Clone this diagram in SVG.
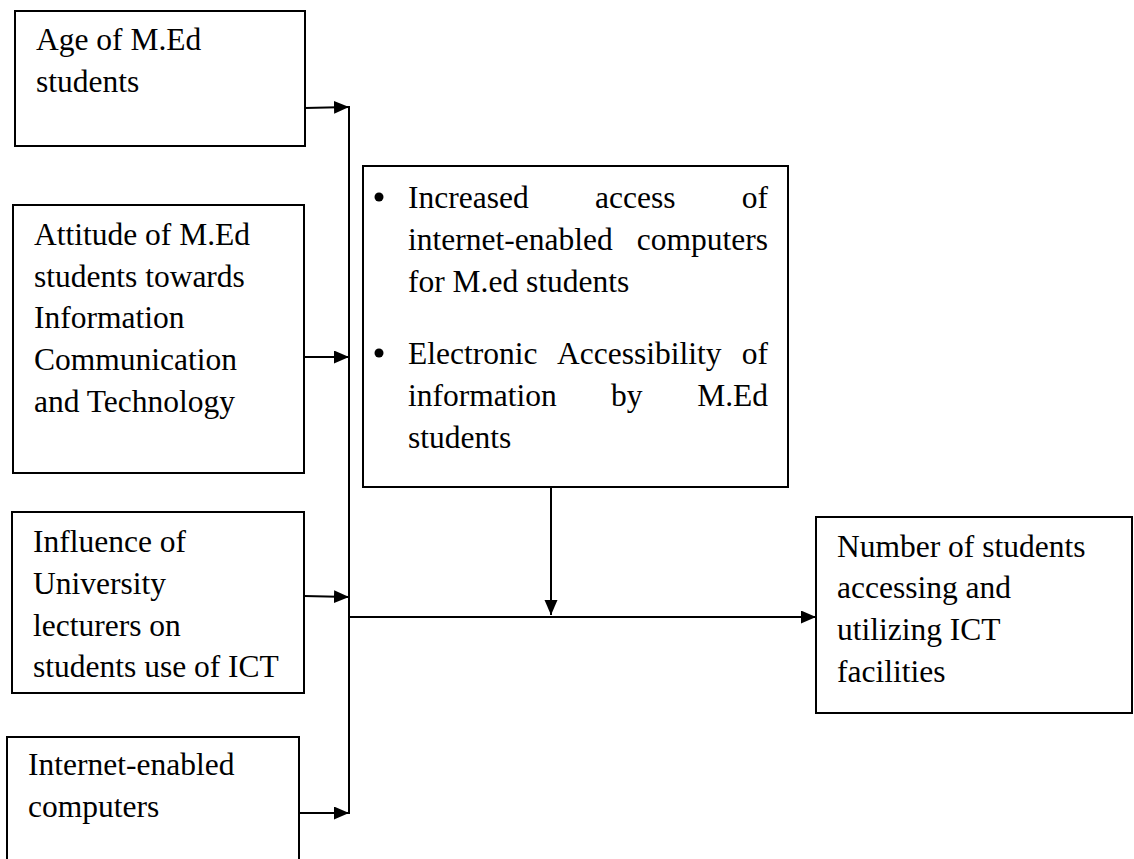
<svg xmlns="http://www.w3.org/2000/svg" width="1134" height="859" viewBox="0 0 1134 859">
<defs>
<style>
.box{fill:#fff;stroke:#000;stroke-width:2}
.t{font-family:"Liberation Serif","Times New Roman",serif;font-size:31.5px;fill:#000}
.c{stroke:#000;stroke-width:2;fill:none}
</style>
<marker id="ah" markerUnits="userSpaceOnUse" markerWidth="16" markerHeight="14" refX="15" refY="6.5" orient="auto">
<path d="M0,0 L15,6.5 L0,13 z" fill="#000"/>
</marker>
</defs>
<rect width="1134" height="859" fill="#fff"/>
<g id="connectors">
<line class="c" x1="349" y1="106" x2="349" y2="814"/>
<line class="c" x1="305" y1="108" x2="349" y2="107" marker-end="url(#ah)"/>
<line class="c" x1="304" y1="357" x2="349" y2="357" marker-end="url(#ah)"/>
<line class="c" x1="304" y1="596" x2="349" y2="597" marker-end="url(#ah)"/>
<line class="c" x1="299" y1="813" x2="349" y2="813" marker-end="url(#ah)"/>
<line class="c" x1="349" y1="617" x2="816" y2="617" marker-end="url(#ah)"/>
<line class="c" x1="551" y1="487" x2="551" y2="615" marker-end="url(#ah)"/>
</g>
<g id="node-age">
<rect class="box" x="15" y="11" width="290" height="135"/>
<text class="t" x="36" y="50">Age of M.Ed</text>
<text class="t" x="36" y="92">students</text>
</g>
<g id="node-attitude">
<rect class="box" x="13" y="205" width="291" height="268"/>
<text class="t" x="34" y="245">Attitude of M.Ed</text>
<text class="t" x="34" y="287">students towards</text>
<text class="t" x="34" y="328">Information</text>
<text class="t" x="34" y="370">Communication</text>
<text class="t" x="34" y="412">and Technology</text>
</g>
<g id="node-influence">
<rect class="box" x="12" y="512" width="292" height="181"/>
<text class="t" x="33" y="552">Influence of</text>
<text class="t" x="33" y="594">University</text>
<text class="t" x="33" y="636">lecturers on</text>
<text class="t" x="33" y="677">students use of ICT</text>
</g>
<g id="node-internet">
<rect class="box" x="7" y="737" width="292" height="140"/>
<text class="t" x="28" y="775">Internet-enabled</text>
<text class="t" x="28" y="817">computers</text>
</g>
<g id="node-moderator">
<rect class="box" x="363" y="166" width="425" height="321"/>
<circle cx="379" cy="197" r="4.5" fill="#000"/>
<text class="t" x="408" y="208">Increased</text>
<text class="t" x="595" y="208">access</text>
<text class="t" x="768" y="208" text-anchor="end">of</text>
<text class="t" x="408" y="250">internet-enabled</text>
<text class="t" x="768" y="250" text-anchor="end">computers</text>
<text class="t" x="408" y="292">for M.ed students</text>
<circle cx="379" cy="353" r="4.5" fill="#000"/>
<text class="t" x="408" y="364">Electronic</text>
<text class="t" x="557" y="364">Accessibility</text>
<text class="t" x="768" y="364" text-anchor="end">of</text>
<text class="t" x="408" y="406">information</text>
<text class="t" x="611" y="406">by</text>
<text class="t" x="768" y="406" text-anchor="end">M.Ed</text>
<text class="t" x="408" y="448">students</text>
</g>
<g id="node-outcome">
<rect class="box" x="816" y="517" width="316" height="196"/>
<text class="t" x="837" y="557">Number of students</text>
<text class="t" x="837" y="598">accessing and</text>
<text class="t" x="837" y="640">utilizing ICT</text>
<text class="t" x="837" y="682">facilities</text>
</g>
</svg>
